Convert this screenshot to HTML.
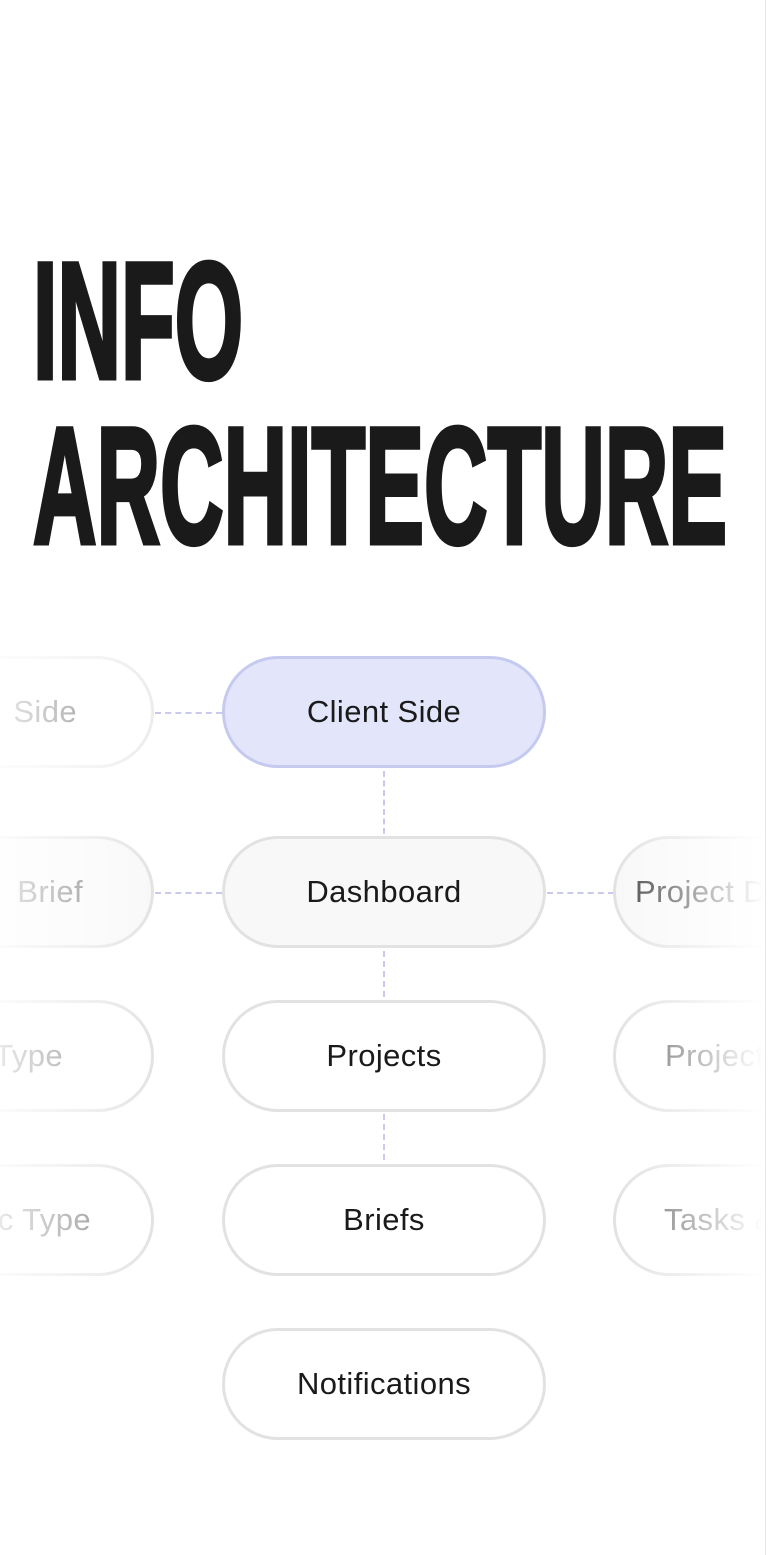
<!DOCTYPE html>
<html><head><meta charset="utf-8"><style>
*{margin:0;padding:0;box-sizing:border-box}
body{width:768px;height:1555px;background:#fff;position:relative;overflow:hidden;font-family:"Liberation Sans",sans-serif}
.t{position:absolute;left:33px;font-weight:700;font-size:166px;line-height:1;color:#1a1a1a;transform:scaleX(0.53);transform-origin:0 0;white-space:nowrap;-webkit-text-stroke:5px #1a1a1a}
.n{position:absolute;width:324px;height:112px;border:3px solid #e2e2e2;border-radius:56px;background:#fff;font-size:31px;letter-spacing:0.4px;color:#1a1a1a;display:flex;align-items:center;justify-content:center}
.side{position:absolute;height:112px;overflow:hidden}
.L{left:0;width:156px;-webkit-mask-image:linear-gradient(90deg,rgba(0,0,0,.15),rgba(0,0,0,.55) 60%,#000);mask-image:linear-gradient(90deg,rgba(0,0,0,.15),rgba(0,0,0,.55) 60%,#000)}
.R{left:613px;width:150px;-webkit-mask-image:linear-gradient(90deg,#000,rgba(0,0,0,.6) 40%,rgba(0,0,0,0));mask-image:linear-gradient(90deg,#000,rgba(0,0,0,.6) 40%,rgba(0,0,0,0))}
.txt{position:absolute;top:0;height:112px;line-height:112px;font-size:31px;letter-spacing:0.4px;color:#666;white-space:nowrap}
.v{position:absolute;left:383px;width:0;border-left:2px dashed #c9c9ec}
.h{position:absolute;height:0;border-top:2px dashed #c9c9ec}
</style></head><body>
<div style="position:absolute;left:765px;top:0;width:1px;height:1555px;background:#e6e6e6"></div>
<div class="t" style="top:239px">INFO</div>
<div class="t" style="top:404px">ARCHITECTURE</div>

<div class="v" style="top:771px;height:63px"></div>
<div class="v" style="top:951px;height:46px"></div>
<div class="v" style="top:1114px;height:46px"></div>
<div class="h" style="left:155px;width:67px;top:712px"></div>
<div class="h" style="left:155px;width:67px;top:892px"></div>
<div class="h" style="left:547px;width:67px;top:892px"></div>

<div class="side L" style="top:656px"><div class="n" style="left:-170px;top:0;border-color:#ececec"></div><div class="txt" style="right:79px">Side</div></div>
<div class="side L" style="top:836px"><div class="n" style="left:-170px;top:0;background:#f8f8f8"></div><div class="txt" style="right:73px">Brief</div></div>
<div class="side L" style="top:1000px"><div class="n" style="left:-170px;top:0"></div><div class="txt" style="right:93px">Type</div></div>
<div class="side L" style="top:1164px"><div class="n" style="left:-170px;top:0"></div><div class="txt" style="right:65px">c Type</div></div>

<div class="side R" style="top:836px"><div class="n" style="left:0;top:0;background:#f8f8f8"></div><div class="txt" style="left:22px;color:#444">Project Details</div></div>
<div class="side R" style="top:1000px"><div class="n" style="left:0;top:0"></div><div class="txt" style="left:52px">Projects</div></div>
<div class="side R" style="top:1164px"><div class="n" style="left:0;top:0"></div><div class="txt" style="left:51px">Tasks &amp;</div></div>

<div class="n" style="left:222px;top:656px;background:#e3e6fb;border-color:#c6caef">Client Side</div>
<div class="n" style="left:222px;top:836px;background:#f8f8f8">Dashboard</div>
<div class="n" style="left:222px;top:1000px">Projects</div>
<div class="n" style="left:222px;top:1164px">Briefs</div>
<div class="n" style="left:222px;top:1328px">Notifications</div>
</body></html>
